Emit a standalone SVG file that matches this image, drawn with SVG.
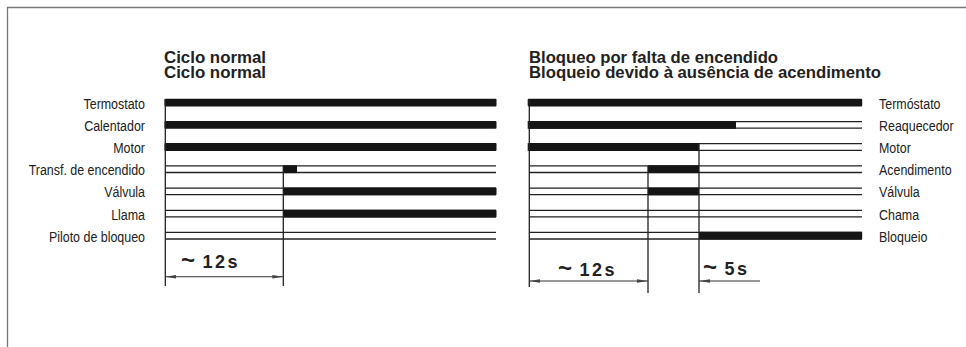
<svg xmlns="http://www.w3.org/2000/svg" width="966" height="347" viewBox="0 0 966 347">
<defs>
<style>
.frame{fill:none;stroke:#777;stroke-width:1.3}
.title{font-family:"Liberation Sans",Arial,sans-serif;font-weight:bold;font-size:16px;fill:#222}
.lbl{font-family:"Liberation Sans",Arial,sans-serif;font-size:15px;fill:#222}
.lblL{text-anchor:end}
.ln{stroke:#222;stroke-width:1.3;fill:none}
.bar{fill:#151515}
.vl{stroke:#222;stroke-width:1.3;fill:none}
.dim{stroke:#333;stroke-width:1.1;fill:none}
.dimt{font-family:"Liberation Sans",Arial,sans-serif;font-weight:bold;font-size:18px;fill:#222}
.tl{font-size:24px;letter-spacing:0}
.num{letter-spacing:2.5px}
</style>
<marker id="ah" markerUnits="userSpaceOnUse" markerWidth="12" markerHeight="6" refX="11" refY="3" orient="auto-start-reverse">
<path d="M0,1.2 L11,3 L0,4.8 z" fill="#444"/>
</marker>
</defs>
<rect width="966" height="347" fill="#fff"/>
<path class="frame" d="M7.5,347 V7.5 H966"/>

<g id="title-left">
<text class="title" x="164" y="62.5" textLength="102" lengthAdjust="spacingAndGlyphs">Ciclo normal</text>
<text class="title" x="164" y="77.5" textLength="102" lengthAdjust="spacingAndGlyphs">Ciclo normal</text>
</g>
<g id="title-right">
<text class="title" x="529" y="62.5" textLength="249" lengthAdjust="spacingAndGlyphs">Bloqueo por falta de encendido</text>
<text class="title" x="529" y="77.5" textLength="352" lengthAdjust="spacingAndGlyphs">Bloqueio devido à ausência de acendimento</text>
</g>

<!-- Left panel rows -->
<g id="L-termostato">
<text class="lbl lblL" transform="translate(145,108.7) scale(0.83,1)">Termostato</text>
<rect class="bar" x="164.5" y="98.8" width="332" height="7.8" rx="1"/>
</g>
<g id="L-calentador">
<text class="lbl lblL" transform="translate(145,130.9) scale(0.83,1)">Calentador</text>
<rect class="bar" x="164.5" y="121" width="332" height="7.8" rx="1"/>
</g>
<g id="L-motor">
<text class="lbl lblL" transform="translate(145,153) scale(0.83,1)">Motor</text>
<rect class="bar" x="164.5" y="143.1" width="332" height="7.8" rx="1"/>
</g>
<g id="L-transf">
<text class="lbl lblL" transform="translate(145,175.2) scale(0.83,1)">Transf. de encendido</text>
<path class="ln" d="M165,165.9 H496 M165,172.5 H496"/>
<rect class="bar" x="283" y="165.3" width="14" height="7.8"/>
</g>
<g id="L-valvula">
<text class="lbl lblL" transform="translate(145,197.4) scale(0.83,1)">Válvula</text>
<path class="ln" d="M165,188.1 H496 M165,194.7 H496"/>
<rect class="bar" x="283" y="187.5" width="213.5" height="7.8" rx="1"/>
</g>
<g id="L-llama">
<text class="lbl lblL" transform="translate(145,219.6) scale(0.83,1)">Llama</text>
<path class="ln" d="M165,210.3 H496 M165,216.9 H496"/>
<rect class="bar" x="283" y="209.7" width="213.5" height="7.8" rx="1"/>
</g>
<g id="L-piloto">
<text class="lbl lblL" transform="translate(145,241.7) scale(0.83,1)">Piloto de bloqueo</text>
<path class="ln" d="M165,232.4 H496 M165,239 H496"/>
</g>

<!-- Right panel rows -->
<g id="R-termostato">
<text class="lbl" transform="translate(879,108.7) scale(0.83,1)">Termóstato</text>
<rect class="bar" x="527.7" y="98.8" width="334.5" height="7.8" rx="1"/>
</g>
<g id="R-reaquecedor">
<text class="lbl" transform="translate(879,130.9) scale(0.83,1)">Reaquecedor</text>
<path class="ln" d="M529,121.6 H862 M529,128.2 H862"/>
<rect class="bar" x="527.7" y="121" width="208.3" height="7.8"/>
</g>
<g id="R-motor">
<text class="lbl" transform="translate(879,153) scale(0.83,1)">Motor</text>
<path class="ln" d="M529,143.7 H862 M529,150.3 H862"/>
<rect class="bar" x="527.7" y="143.1" width="171.3" height="7.8"/>
</g>
<g id="R-acendimento">
<text class="lbl" transform="translate(879,175.2) scale(0.83,1)">Acendimento</text>
<path class="ln" d="M529,165.9 H862 M529,172.5 H862"/>
<rect class="bar" x="648" y="165.3" width="51" height="7.8"/>
</g>
<g id="R-valvula">
<text class="lbl" transform="translate(879,197.4) scale(0.83,1)">Válvula</text>
<path class="ln" d="M529,188.1 H862 M529,194.7 H862"/>
<rect class="bar" x="648" y="187.5" width="51" height="7.8"/>
</g>
<g id="R-chama">
<text class="lbl" transform="translate(879,219.6) scale(0.83,1)">Chama</text>
<path class="ln" d="M529,210.3 H862 M529,216.9 H862"/>
</g>
<g id="R-bloqueio">
<text class="lbl" transform="translate(879,241.7) scale(0.83,1)">Bloqueio</text>
<path class="ln" d="M529,232.4 H862 M529,239 H862"/>
<rect class="bar" x="699" y="231.8" width="163.2" height="7.8" rx="1"/>
</g>

<g id="connectors">
<path class="vl" d="M165.3,99 V286 M283.3,166 V286 M529.3,99 V287 M648,166 V293 M699,144 V293"/>
<line class="dim" x1="165.3" y1="276.7" x2="283.3" y2="276.7" marker-start="url(#ah)" marker-end="url(#ah)"/>
<line class="dim" x1="529.3" y1="281" x2="648" y2="281" marker-start="url(#ah)" marker-end="url(#ah)"/>
<line class="dim" x1="760" y1="281" x2="699" y2="281" marker-end="url(#ah)"/>
<text class="dimt" x="181" y="268" font-size="17"><tspan class="tl" font-size="23">~</tspan><tspan class="num"> 12s</tspan></text>
<text class="dimt" x="558" y="276"><tspan class="tl">~</tspan><tspan class="num"> 12s</tspan></text>
<text class="dimt" x="703" y="275"><tspan class="tl">~</tspan><tspan class="num"> 5s</tspan></text>
</g>
</svg>
